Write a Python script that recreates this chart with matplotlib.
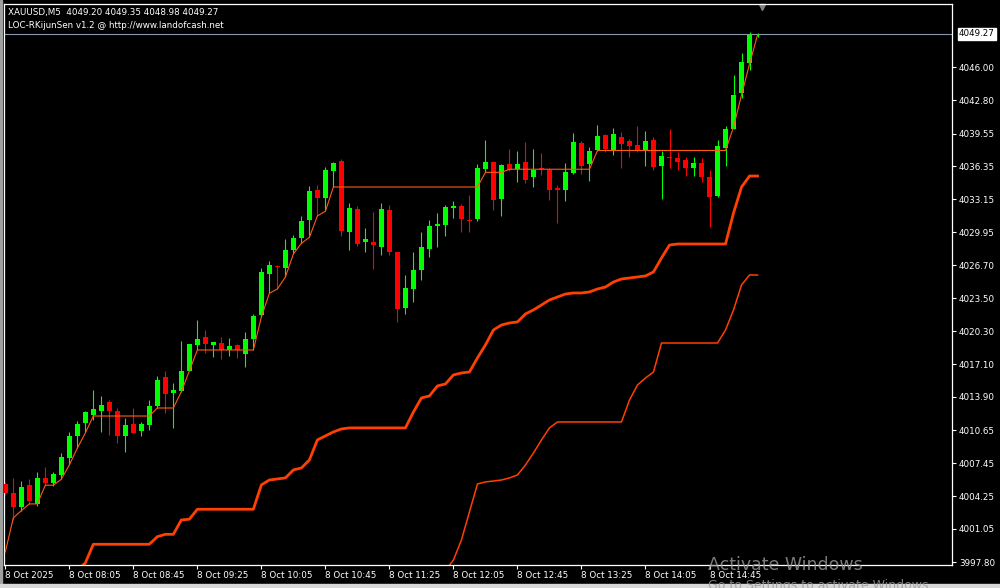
import matplotlib
matplotlib.use('Agg')
import matplotlib.pyplot as plt
import numpy as np

# XAUUSD M5, 95 bars
opens = [4005.42, 4004.58, 4003.21, 4005.33, 4003.48, 4006.04, 4005.55, 4006.30, 4007.98, 4010.10,
         4011.39, 4012.17, 4012.53, 4013.38, 4012.53, 4010.13, 4011.27, 4010.58, 4011.17, 4013.02,
         4015.84, 4014.31, 4014.51, 4016.43, 4018.96, 4019.74, 4018.96, 4019.15, 4018.47, 4018.96,
         4018.08, 4019.54, 4021.85, 4025.87, 4026.65, 4026.48, 4028.21, 4029.41, 4031.13, 4034.05,
         4033.27, 4035.90, 4036.87, 4029.96, 4032.20, 4029.02, 4028.99, 4028.50, 4032.10, 4028.01,
         4022.56, 4024.41, 4026.26, 4028.31, 4030.54, 4030.64, 4032.30, 4032.49, 4031.13, 4031.23,
         4036.09, 4036.78, 4033.17, 4036.58, 4036.09, 4036.78, 4035.32, 4036.19, 4036.00, 4034.24,
         4034.05, 4035.70, 4038.63, 4036.58, 4037.90, 4039.40, 4037.94, 4039.21, 4038.82, 4038.43,
         4037.94, 4038.92, 4036.39, 4037.26, 4037.17, 4036.97, 4036.19, 4036.68, 4035.34, 4033.47,
         4038.17, 4039.99, 4043.47, 4046.39, 4049.20]
highs = [4005.62, 4006.04, 4005.74, 4005.94, 4006.59, 4007.05, 4006.59, 4008.44, 4010.49, 4011.53,
         4012.53, 4014.58, 4013.99, 4013.60, 4012.82, 4011.88, 4012.82, 4011.46, 4013.60, 4015.94,
         4016.43, 4015.29, 4019.35, 4019.10, 4021.39, 4020.42, 4019.25, 4019.74, 4019.64, 4019.05,
         4020.22, 4021.98, 4026.48, 4027.14, 4026.75, 4029.28, 4029.67, 4031.52, 4034.44, 4034.51,
         4036.29, 4036.78, 4037.07, 4032.78, 4032.49, 4030.35, 4031.91, 4032.78, 4032.59, 4028.05,
         4025.77, 4028.01, 4029.96, 4031.13, 4031.81, 4032.59, 4032.98, 4032.69, 4033.56, 4036.58,
         4038.92, 4036.80, 4036.58, 4038.04, 4037.85, 4038.72, 4038.04, 4037.65, 4036.19, 4034.54,
         4036.68, 4039.60, 4038.82, 4038.24, 4040.38, 4039.50, 4040.09, 4039.70, 4039.02, 4040.28,
         4039.79, 4039.21, 4037.85, 4039.99, 4037.75, 4037.26, 4037.26, 4037.17, 4036.00, 4038.92,
         4040.28, 4045.25, 4047.39, 4049.43, 4049.35]
lows = [4004.35, 4001.92, 4002.82, 4003.48, 4003.28, 4005.23, 4005.23, 4005.88, 4007.27, 4008.90,
        4010.52, 4011.65, 4010.52, 4010.19, 4009.44, 4008.57, 4010.39, 4010.10, 4010.68, 4012.82,
        4012.37, 4010.88, 4014.41, 4016.40, 4018.47, 4018.15, 4017.82, 4017.59, 4017.89, 4017.72,
        4016.84, 4018.47, 4021.71, 4023.99, 4024.41, 4025.61, 4027.82, 4028.86, 4029.44, 4031.52,
        4031.98, 4034.37, 4029.57, 4028.21, 4028.60, 4028.01, 4026.36, 4027.72, 4027.72, 4021.20,
        4021.98, 4023.14, 4025.29, 4027.53, 4028.50, 4029.57, 4031.32, 4029.96, 4029.96, 4031.03,
        4035.80, 4032.10, 4031.52, 4035.90, 4034.83, 4034.73, 4034.34, 4035.51, 4033.08, 4030.84,
        4032.98, 4035.65, 4035.61, 4034.93, 4037.85, 4037.75, 4037.46, 4036.19, 4037.26, 4037.75,
        4036.39, 4036.00, 4033.17, 4036.19, 4036.00, 4035.41, 4035.41, 4034.83, 4030.48, 4033.37,
        4036.39, 4039.95, 4043.01, 4045.73, 4048.98]
closes = [4004.55, 4003.21, 4005.16, 4003.80, 4006.04, 4005.55, 4006.40, 4008.05, 4010.10, 4011.27,
          4012.43, 4012.73, 4013.12, 4012.53, 4010.13, 4011.17, 4010.42, 4011.29, 4013.02, 4015.55,
          4014.19, 4014.58, 4016.43, 4019.05, 4019.54, 4019.05, 4019.25, 4018.47, 4018.86, 4018.47,
          4019.54, 4021.78, 4026.07, 4026.75, 4026.52, 4028.21, 4029.41, 4031.03, 4033.95, 4033.27,
          4036.00, 4036.68, 4030.06, 4032.30, 4028.79, 4029.28, 4028.69, 4032.20, 4028.01, 4022.46,
          4024.51, 4026.26, 4028.50, 4030.54, 4030.74, 4032.39, 4032.49, 4031.23, 4031.03, 4036.19,
          4036.78, 4033.08, 4036.48, 4036.00, 4036.58, 4035.02, 4036.00, 4036.07, 4034.05, 4034.08,
          4035.80, 4038.72, 4036.39, 4037.85, 4039.31, 4038.04, 4039.50, 4038.53, 4038.33, 4037.85,
          4038.82, 4036.29, 4037.36, 4037.19, 4036.78, 4036.19, 4036.68, 4035.32, 4033.40, 4038.33,
          4039.99, 4043.30, 4046.54, 4049.15, 4049.27]

# LOC-RKijunSen lines (nan = not on screen yet)
kijun_fast = [3998.80, 4002.11, 4002.82, 4003.48, 4003.48, 4005.30, 4005.30, 4005.88, 4007.27, 4008.90,
              4010.39, 4012.04, 4012.04, 4012.04, 4012.04, 4012.04, 4012.04, 4012.04, 4012.04, 4012.82,
              4012.82, 4012.82, 4014.41, 4016.43, 4018.47, 4018.47, 4018.47, 4018.47, 4018.47, 4018.47,
              4018.47, 4018.47, 4021.68, 4023.99, 4024.41, 4025.58, 4027.82, 4028.86, 4029.44, 4031.52,
              4031.98, 4034.34, 4034.34, 4034.34, 4034.34, 4034.34, 4034.34, 4034.34, 4034.34, 4034.34,
              4034.34, 4034.34, 4034.34, 4034.34, 4034.34, 4034.34, 4034.34, 4034.34, 4034.34, 4034.34,
              4035.77, 4035.77, 4035.77, 4036.07, 4036.07, 4036.07, 4036.07, 4036.07, 4036.07, 4036.07,
              4036.07, 4036.07, 4036.07, 4036.07, 4037.90, 4037.90, 4037.90, 4037.90, 4037.90, 4037.90,
              4037.90, 4037.90, 4037.90, 4037.90, 4037.90, 4037.90, 4037.90, 4037.90, 4037.90, 4037.90,
              4037.90, 4040.18, 4043.30, 4046.32, 4049.14]
kijun_mid = [np.nan] * 9 + [
    3997.00, 3997.73, 3999.55, 3999.55, 3999.55, 3999.55, 3999.55, 3999.55, 3999.55, 3999.55,
    4000.29, 4000.52, 4000.52, 4001.92, 4001.99, 4002.96, 4002.96, 4002.96, 4002.96, 4002.96,
    4002.96, 4002.96, 4002.96, 4005.33, 4005.81, 4005.91, 4006.01, 4006.79, 4006.98, 4007.76,
    4009.71, 4010.10, 4010.49, 4010.78, 4010.88, 4010.88, 4010.88, 4010.88, 4010.88, 4010.88,
    4010.88, 4010.88, 4012.43, 4013.80, 4013.99, 4014.97, 4015.16, 4016.04, 4016.23, 4016.33,
    4017.69, 4018.96, 4020.42, 4020.90, 4021.10, 4021.20, 4021.98, 4022.37, 4022.85, 4023.34,
    4023.63, 4023.92, 4024.02, 4024.02, 4024.12, 4024.41, 4024.60, 4025.09, 4025.38, 4025.48,
    4025.58, 4025.68, 4026.07, 4027.43, 4028.69, 4028.79, 4028.79, 4028.79, 4028.79, 4028.79,
    4028.79, 4028.79, 4031.81, 4034.34, 4035.41, 4035.41]
kijun_slow = [np.nan] * 55 + [
    3997.00, 3998.02, 3999.97, 4002.70, 4005.42, 4005.62, 4005.71, 4005.81, 4006.01, 4006.30,
    4007.27, 4008.44, 4009.71, 4010.88, 4011.46, 4011.46, 4011.46, 4011.46, 4011.46, 4011.46,
    4011.46, 4011.46, 4011.46, 4013.60, 4015.06, 4015.74, 4016.33, 4019.15, 4019.15, 4019.15,
    4019.15, 4019.15, 4019.15, 4019.15, 4019.15, 4020.42, 4022.37, 4024.80, 4025.77, 4025.77]

time_labels = ['8 Oct 2025', '8 Oct 08:05', '8 Oct 08:45', '8 Oct 09:25', '8 Oct 10:05', '8 Oct 10:45',
               '8 Oct 11:25', '8 Oct 12:05', '8 Oct 12:45', '8 Oct 13:25', '8 Oct 14:05', '8 Oct 14:45']
price_ticks = [4046.00, 4042.80, 4039.55, 4036.35, 4033.15, 4029.95, 4026.70, 4023.50,
               4020.30, 4017.10, 4013.90, 4010.65, 4007.45, 4004.25, 4001.05, 3997.80]
last_price = 4049.27

W, H = 1000, 588
fig = plt.figure(figsize=(W / 100, H / 100), dpi=100, facecolor='black')
ax = fig.add_axes([4 / W, 1 - 564.5 / H, 948 / W, 561 / H], facecolor='black')

n = len(opens)
x = np.arange(n)
o = np.array(opens); c = np.array(closes); hi = np.array(highs); lo = np.array(lows)
col = np.where(c >= o, '#00ff00', '#ff0000')

# свечи
ax.vlines(x, lo, hi, colors=col, linewidth=0.8, zorder=3)
body_h = np.maximum(np.abs(c - o), 0.08)
ax.bar(x, body_h, bottom=np.minimum(o, c), width=0.62, color=col, linewidth=0, zorder=4)

# индикатор
ax.plot(x, kijun_slow, color='#ff4000', lw=1.1, zorder=2)
ax.plot(x, kijun_mid, color='#ff4000', lw=2.0, zorder=2)
ax.plot(x, kijun_fast, color='#ff5a14', lw=0.8, zorder=5)

# линия текущей цены
ax.axhline(last_price, color='#8a97a8', lw=0.8, zorder=1)

ax.set_xlim(-0.16, 118.3)
ax.set_ylim(3997.58, 4052.21)

for s in ax.spines.values():
    s.set_color('white')
    s.set_linewidth(0.9)

ax.set_xticks(np.arange(0, n, 8))
ax.set_xticklabels(time_labels, ha='left')
ax.tick_params(axis='x', colors='white', labelcolor='white', length=3, width=0.8,
               labelsize=6.3, pad=2, direction='out')
ax.yaxis.tick_right()
ax.set_yticks(price_ticks)
ax.set_yticklabels(['%.2f' % p for p in price_ticks])
ax.tick_params(axis='y', colors='white', labelcolor='white', length=3, width=0.8,
               labelsize=6.3, pad=2, direction='out')

# метка текущей цены
ax.annotate('%.2f' % last_price, xy=(1, last_price), xycoords=('axes fraction', 'data'),
            xytext=(5, 0), textcoords='offset points', ha='left', va='center',
            fontsize=6.3, color='black',
            bbox=dict(boxstyle='square,pad=0.15', fc='white', ec='white'))

# заголовок
fig.text(8 / W, 1 - 12 / H, 'XAUUSD,M5  4049.20 4049.35 4048.98 4049.27', color='white',
         fontsize=6.3, va='center', ha='left')
fig.text(8 / W, 1 - 25 / H, 'LOC-RKijunSen v1.2 @ http://www.landofcash.net', color='white',
         fontsize=6.3, va='center', ha='left')

# маркер сдвига графика
ax.plot([94.6], [1 - 3 / 561], marker='v', color='#808080', markersize=4,
        transform=ax.get_xaxis_transform(), clip_on=False)

# рамка окна
fig.patches.append(plt.Rectangle((0, 0), 2 / W, 1, transform=fig.transFigure, color='#a0a0a0'))
fig.patches.append(plt.Rectangle((0, 0), 1, 4 / H, transform=fig.transFigure, color='#d8d8d8'))

# водяной знак Windows
fig.text(708 / W, 1 - 565 / H, 'Activate Windows', color='#9a9a9a', alpha=0.8,
         fontsize=12.5, va='center', ha='left')
fig.text(708 / W, 1 - 586 / H, 'Go to Settings to activate Windows.', color='#9a9a9a', alpha=0.8,
         fontsize=9, va='center', ha='left')

fig.savefig('out.png', dpi=100, facecolor='black')
